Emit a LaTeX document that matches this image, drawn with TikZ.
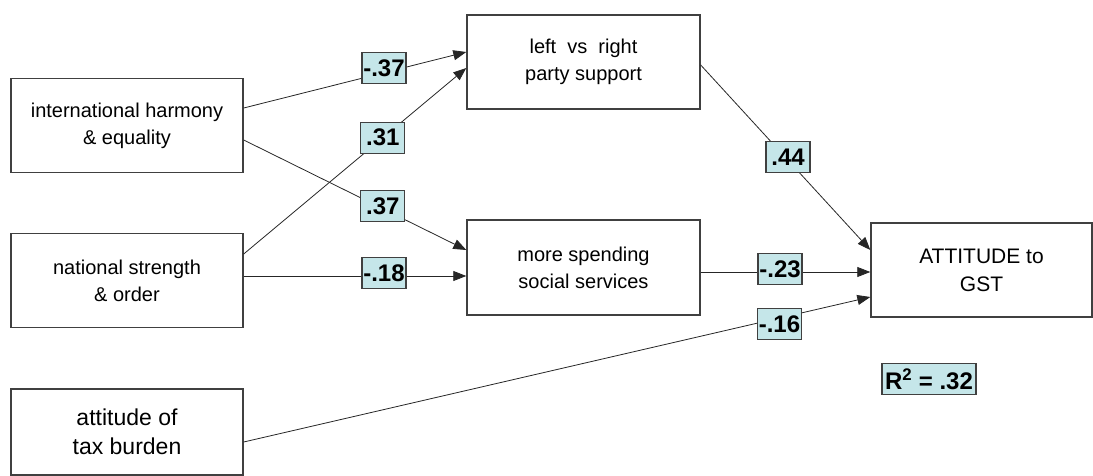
\documentclass[tikz,border=0pt]{standalone}
\usepackage{fontspec}
\setmainfont{Liberation Sans}
\usetikzlibrary{arrows,arrows.meta,shapes,positioning}

\definecolor{coefblue}{RGB}{197,230,233}
\definecolor{boxgray}{RGB}{64,64,64}

\begin{document}
\begin{tikzpicture}[x=1pt,y=-1pt,
  var/.style={rectangle,draw=boxgray,line width=1.4pt,minimum width=232pt,minimum height=94pt,align=center,font=\fontsize{20}{27}\selectfont},
  coef/.style={rectangle,draw=boxgray,fill=coefblue,line width=1.2pt,minimum width=44pt,minimum height=31pt,inner sep=1pt,text=black,font=\fontsize{24}{24}\selectfont\bfseries},
  link/.style={-{Triangle[length=13pt,width=10pt]},line width=0.8pt,black!85}]
  \useasboundingbox (0,0) rectangle (1093,476);

  \node[var] (intl) at (127,125.5) {international harmony\\\& equality};
  \node[var] (nat) at (127,280.5) {national strength\\\& order};
  \node[var,minimum height=86pt,font=\fontsize{23}{29}\selectfont] (tax) at (127,432) {attitude of\\tax burden};
  \node[var,minimum width=233pt] (party) at (583.5,62) {left\ \ vs\ \ right\\party support};
  \node[var,minimum width=233pt,minimum height=95pt] (spend) at (583.5,267.5) {more spending\\social services};
  \node[var,minimum width=221pt,font=\fontsize{21}{28}\selectfont] (gst) at (981.5,270) {ATTITUDE to\\GST};
  \node[coef,minimum width=94pt] (rsq) at (929,379) {R\textsuperscript{2} = .32};

  \draw[link] ([yshift=17.5pt]intl.east) -- node[coef,pos=0.63,yshift=4.5pt] (c1) {-.37} ([yshift=10pt]party.west);
  \draw[link] ([yshift=26.5pt]nat.east) -- node[coef,pos=0.625] (c2) {.31} ([yshift=-6pt]party.west);
  \draw[link] ([yshift=-14.5pt]intl.east) -- node[coef,pos=0.625,yshift=2.5pt] (c3) {.37} ([yshift=17.5pt]spend.west);
  \draw[link] ([yshift=4.5pt]nat.east) -- node[coef,pos=0.63,yshift=3pt] (c4) {-.18} ([yshift=-8.5pt]spend.west);
  \draw[link] ([yshift=-3pt]party.east) -- node[coef,pos=0.515,yshift=3.5pt] (c5) {.44} ([yshift=20pt]gst.west);
  \draw[link] ([yshift=-4.5pt]spend.east) -- node[coef,pos=0.468,yshift=3pt] (c6) {-.23} ([yshift=-2pt]gst.west);
  \draw[link] ([yshift=-10pt]tax.east) -- node[coef,pos=0.855,yshift=-6pt] (c7) {-.16} ([yshift=-27pt]gst.west);
\end{tikzpicture}
\end{document}
